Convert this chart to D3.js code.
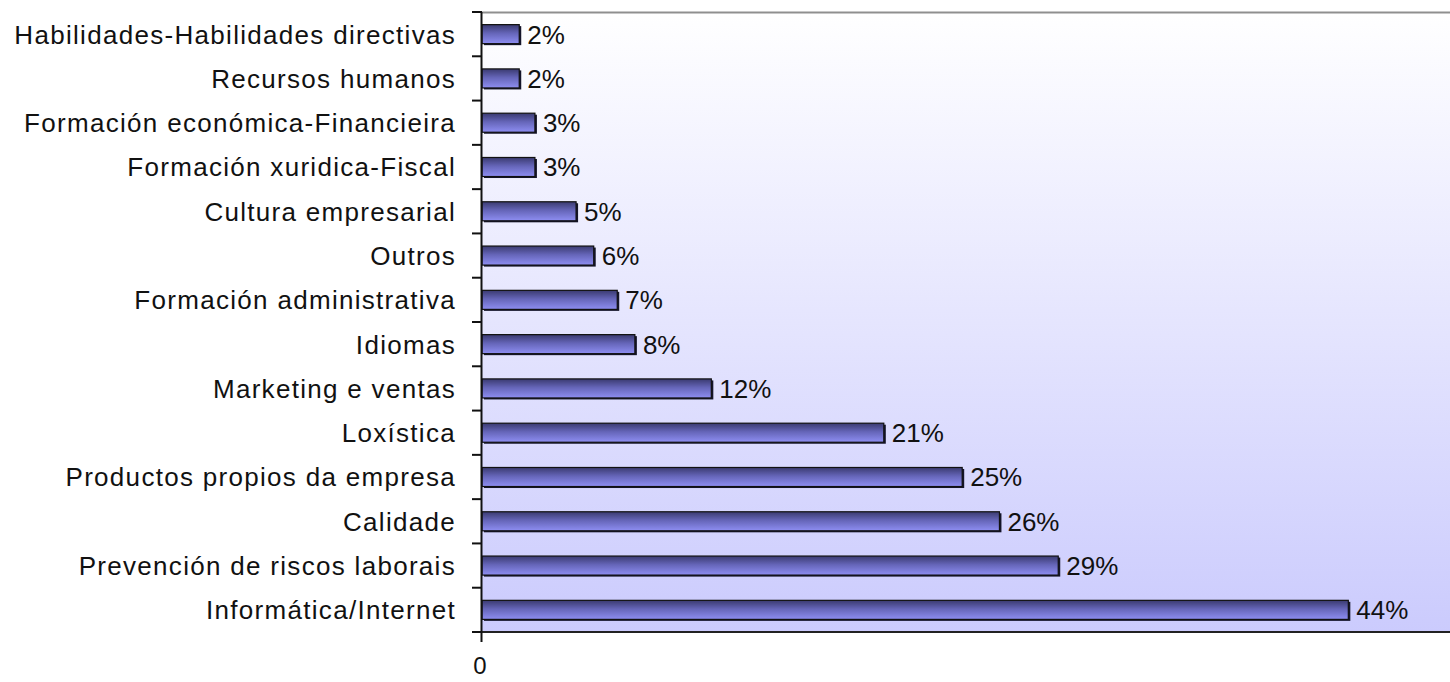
<!DOCTYPE html>
<html>
<head>
<meta charset="utf-8">
<script src="https://cdn.jsdelivr.net/npm/d3@7"></script>
<style>
  html, body { margin: 0; padding: 0; background: #ffffff; }
  svg { display: block; }
</style>
</head>
<body>
<svg id="chart" width="1450" height="682"></svg>
<script>
const categories = [
  "Habilidades-Habilidades directivas",
  "Recursos humanos",
  "Formación económica-Financieira",
  "Formación xuridica-Fiscal",
  "Cultura empresarial",
  "Outros",
  "Formación administrativa",
  "Idiomas",
  "Marketing e ventas",
  "Loxística",
  "Productos propios da empresa",
  "Calidade",
  "Prevención de riscos laborais",
  "Informática/Internet"
];
const values = [1.9, 1.9, 2.7, 2.7, 4.8, 5.7, 6.9, 7.8, 11.7, 20.5, 24.5, 26.4, 29.4, 44.2];
const xTicks = [0];

const svg = d3.select("#chart");
const plot = { left: 482, top: 12, bottom: 632, right: 1462 };

const defs = svg.append("defs");
const bg = defs.append("linearGradient").attr("id", "bgGrad")
  .attr("x1", 0).attr("y1", 0).attr("x2", 0).attr("y2", 1);
bg.append("stop").attr("offset", "0%").attr("stop-color", "#ffffff");
bg.append("stop").attr("offset", "100%").attr("stop-color", "#cbcbfd");

const barG = defs.append("linearGradient").attr("id", "barGrad")
  .attr("x1", 0).attr("y1", 0).attr("x2", 0).attr("y2", 1);
barG.append("stop").attr("offset", "0%").attr("stop-color", "#3a3a70");
barG.append("stop").attr("offset", "45%").attr("stop-color", "#6565b8");
barG.append("stop").attr("offset", "100%").attr("stop-color", "#8e8ef2");

const x = d3.scaleLinear().domain([0, 50]).range([plot.left, plot.right]);
const y = d3.scaleBand().domain(categories).range([plot.top, plot.bottom])
  .paddingInner(0.57).paddingOuter(0.285);
const step = y.step();

// plot background
svg.append("rect")
  .attr("x", plot.left).attr("y", plot.top)
  .attr("width", plot.right - plot.left).attr("height", plot.bottom - plot.top)
  .attr("fill", "url(#bgGrad)");

// top border
svg.append("line")
  .attr("x1", plot.left).attr("x2", 1450)
  .attr("y1", plot.top + 0.5).attr("y2", plot.top + 0.5)
  .attr("stroke", "#8f8f8f").attr("stroke-width", 2);

// bars: shadow + bar
const rows = categories.map((c, i) => ({ c, v: values[i] }));
svg.append("g").selectAll("rect").data(rows).join("rect")
  .attr("x", x(0) + 2)
  .attr("y", d => y(d.c) + 1.5)
  .attr("width", d => x(d.v) - x(0))
  .attr("height", y.bandwidth())
  .attr("fill", "#15152a");
svg.append("g").selectAll("rect").data(rows).join("rect")
  .attr("x", x(0))
  .attr("y", d => y(d.c))
  .attr("width", d => x(d.v) - x(0))
  .attr("height", y.bandwidth())
  .attr("fill", "url(#barGrad)")
  .attr("stroke", "#111")
  .attr("stroke-width", 1.2);

// value labels
svg.append("g").selectAll("text").data(rows).join("text")
  .attr("x", d => x(d.v) + 8)
  .attr("y", d => y(d.c) + y.bandwidth() / 2)
  .attr("dy", "0.36em")
  .attr("font-family", "Liberation Sans, Arial, sans-serif")
  .attr("font-size", 26)
  .attr("fill", "#111")
  .text(d => Math.round(d.v) + "%");

// bottom axis line
svg.append("line")
  .attr("x1", plot.left).attr("x2", 1450)
  .attr("y1", plot.bottom).attr("y2", plot.bottom)
  .attr("stroke", "#222").attr("stroke-width", 2);

// left axis
svg.append("line")
  .attr("x1", plot.left - 0.5).attr("x2", plot.left - 0.5)
  .attr("y1", plot.top).attr("y2", plot.bottom + 10)
  .attr("stroke", "#111").attr("stroke-width", 2);

const boundaries = d3.range(categories.length + 1).map(i => plot.top + i * step);
svg.append("g").selectAll("line").data(boundaries).join("line")
  .attr("x1", plot.left - 10).attr("x2", plot.left)
  .attr("y1", d => d).attr("y2", d => d)
  .attr("stroke", "#111").attr("stroke-width", 2);

// category labels
svg.append("g").selectAll("text").data(categories).join("text")
  .attr("x", 456)
  .attr("y", d => y(d) + y.bandwidth() / 2)
  .attr("dy", "0.36em")
  .attr("text-anchor", "end")
  .attr("font-family", "Liberation Sans, Arial, sans-serif")
  .attr("font-size", 26)
  .attr("letter-spacing", "1.3px")
  .attr("fill", "#111")
  .text(d => d);

// x tick label
svg.append("g").selectAll("text").data(xTicks).join("text")
  .attr("x", d => x(d) - 2)
  .attr("y", 665)
  .attr("dy", "0.36em")
  .attr("text-anchor", "middle")
  .attr("font-family", "Liberation Sans, Arial, sans-serif")
  .attr("font-size", 24)
  .attr("fill", "#111")
  .text(d => d);
</script>
</body>
</html>
